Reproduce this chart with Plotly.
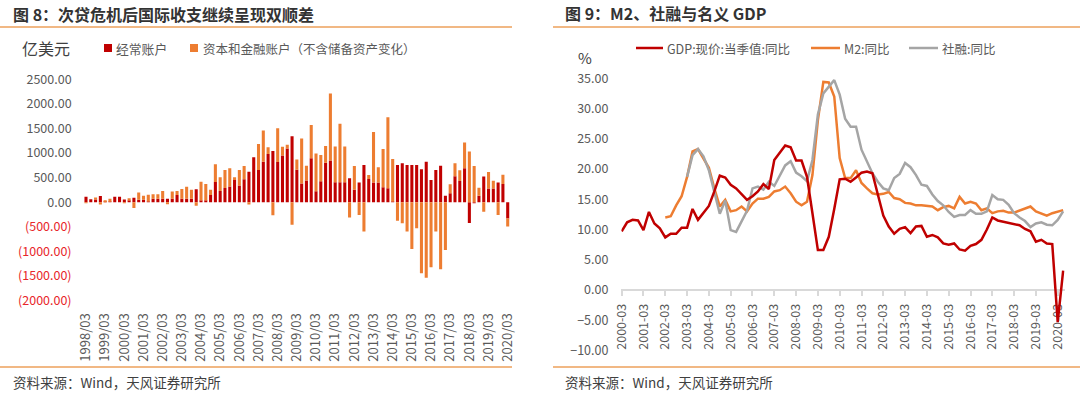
import plotly.graph_objects as go

# ---------------- data: left chart (balance of payments, 亿美元) ----------------
bop_quarters = [f"{y}/{m:02d}" for y in range(1998, 2021) for m in (3, 6, 9, 12)][:89]
current_account = [
    115, 60, 55, 130, 5, 10, 115, 115, 55, 35,
    90, 50, 50, 15, 70, 70, 70, 70, 70, 150,
    70, 70, 70, 265, 35, 35, 150, 415, 230, 290,
    320, 455, 340, 470, 620, 915, 655, 825, 980, 1045,
    820, 950, 1095, 1340, 660, 380, 445, 895, 225, 430,
    805, 850, 410, 410, 410, 490, 257, 400, 760, 474,
    400, 400, 305, 285, 15, 760, 795, 760, 760, 760,
    670, 826, 454, 657, 745, 135, 183, 528, 434, 691,
    -420, -10, 135, 522, 278, 278, 400, 373, -330,
]
capital_financial = [
    -10, 0, 45, -45, 30, 60, 0, 0, -10, 45,
    -115, 150, 85, 140, 93, 93, 160, -25, 147, 80,
    200, 248, 187, -70, 385, 338, 107, 360, 278, 367,
    371, 53, 317, 266, -45, 0, 531, 635, 138, -265,
    685, 180, 76, -455, 210, 915, 300, 675, 765, 530,
    340, 1360, 725, 1185, 725, -310, 480, -257, -596, 82,
    1030, 310, 780, 1445, 865, -373, -427, -596, -948, -528,
    -1443, -1531, -1321, -596, -1362, -969, 183, 265, 216, 522,
    1030, 740, 163, -190, 339, 162, -257, 189, -160,
]
bop_ytick_vals = [2500, 2000, 1500, 1000, 500, 0, -500, -1000, -1500, -2000]

# ---------------- data: right chart (M2, TSF, nominal GDP, %) ----------------
macro_quarters = [f"{y}-{m:02d}" for y in range(2000, 2021) for m in (3, 6, 9, 12)][:82]
gdp_yoy = [
    9.7, 11.2, 11.6, 11.5, 9.9, 12.9, 11.0, 10.2, 8.7, 9.3,
    9.3, 10.3, 10.3, 13.4, 11.6, 12.8, 13.9, 16.3, 18.9, 18.6,
    17.4, 16.8, 15.8, 14.9, 15.5, 16.3, 17.5, 16.7, 21.5, 22.7,
    23.9, 23.6, 21.4, 21.4, 18.7, 12.7, 6.6, 6.6, 8.8, 13.4,
    18.3, 18.4, 17.9, 18.6, 19.4, 19.6, 19.3, 15.8, 12.3, 10.5,
    9.3, 10.1, 10.4, 9.4, 10.5, 10.6, 8.8, 9.1, 8.7, 7.7,
    7.5, 7.7, 6.7, 6.5, 7.3, 7.6, 8.3, 10.0, 12.0, 11.5,
    11.3, 11.2, 11.0, 10.7, 10.1, 9.7, 8.0, 8.3, 7.7, 7.6,
    -5.3, 3.2,
]
m2_yoy = [None] * 8 + [
    12.0, 12.2, 14.0, 15.5, 18.7, 22.9, 23.3, 21.8, 20.2, 16.8,
    13.8, 14.9, 13.0, 13.2, 13.8, 13.0, 14.3, 15.1, 15.1, 15.4,
    16.3, 16.5, 17.1, 16.0, 14.6, 14.0, 14.6, 19.0, 28.1, 34.4,
    34.3, 32.0, 21.8, 18.5, 18.5, 19.8, 17.7, 16.8, 16.0, 15.8,
    15.9, 16.2, 15.2, 15.0, 14.4, 14.3, 14.0, 14.0, 13.9, 13.8,
    13.2, 13.7, 13.9, 13.5, 15.4, 14.3, 14.6, 14.3, 13.2, 13.5,
    12.7, 13.0, 13.1, 12.8, 12.8, 13.1, 13.5, 13.8, 13.0, 12.6,
    12.3, 12.7, 13.0, 13.2,
]
tsf_yoy = [None] * 12 + [
    18.7, 22.3, 23.3, 22.1, 19.8, 16.2, 12.6, 14.8, 9.9, 9.6,
    11.3, 13.1, 16.8, 17.1, 16.6, 17.9, 17.2, 18.8, 20.6, 21.3,
    19.4, 18.8, 18.0, 21.5, 29.0, 32.5, 33.6, 34.7, 32.3, 28.3,
    27.0, 27.0, 23.2, 21.3, 19.3, 17.9, 16.8, 16.5, 18.5, 19.2,
    21.0, 20.3, 19.0, 17.4, 17.2, 15.8, 14.7, 14.0, 12.9, 12.1,
    12.4, 12.4, 13.2, 12.6, 12.6, 13.0, 15.7, 15.0, 14.9, 14.1,
    12.7, 12.0, 11.4, 10.4, 11.0, 11.2, 10.8, 10.7, 11.6, 13.0,
]

# ---------------- styling ----------------
W, H = 1080, 394
FONT = "Noto Sans CJK SC"
RED = "#C00000"
ORANGE = "#ED7D31"
GRAY = "#A5A5A5"
TXT = "#595959"
AXIS = "#D9D9D9"
RULE = "#EDA15B"


def px(x):
    return x / W


def py(y):
    return 1 - y / H


fig = go.Figure()

# left bars
fig.add_trace(go.Bar(x=bop_quarters, y=current_account, name="经常账户",
                     marker=dict(color=RED, line=dict(width=0)), xaxis="x", yaxis="y"))
fig.add_trace(go.Bar(x=bop_quarters, y=capital_financial, name="资本和金融账户（不含储备资产变化）",
                     marker=dict(color=ORANGE, line=dict(width=0)), xaxis="x", yaxis="y"))

# right lines
fig.add_trace(go.Scatter(x=macro_quarters, y=m2_yoy, mode="lines", name="M2:同比",
                         line=dict(color=ORANGE, width=2.5), xaxis="x3", yaxis="y3"))
fig.add_trace(go.Scatter(x=macro_quarters, y=tsf_yoy, mode="lines", name="社融:同比",
                         line=dict(color=GRAY, width=2.5), xaxis="x3", yaxis="y3"))
fig.add_trace(go.Scatter(x=macro_quarters, y=gdp_yoy, mode="lines", name="GDP:现价:当季值:同比",
                         line=dict(color=RED, width=2.5), xaxis="x3", yaxis="y3"))

# geometry
L_dom_x = [px(83.6), px(510.1)]
L_dom_y = [py(300.7), py(79.3)]
L_range = [-2000, 2500]
L_zero = L_dom_y[0] + (0 - L_range[0]) / (L_range[1] - L_range[0]) * (L_dom_y[1] - L_dom_y[0])

R_dom_x = [px(621.4), px(1064.8)]
R_dom_y = [py(350.5), py(78.3)]
R_range = [-10, 35]
R_zero = R_dom_y[0] + (0 - R_range[0]) / (R_range[1] - R_range[0]) * (R_dom_y[1] - R_dom_y[0])


def ylab(v):
    if v < 0:
        return f'<span style="color:#E8262A">({abs(v):.2f})</span>'
    return f"{v:.2f}"


fig.update_layout(
    template="none",
    width=W, height=H,
    margin=dict(l=0, r=0, t=0, b=0, pad=0, autoexpand=False),
    paper_bgcolor="white", plot_bgcolor="rgba(0,0,0,0)",
    showlegend=False,
    barmode="relative", bargap=0.36,
    font=dict(family=FONT, color=TXT),
    xaxis=dict(domain=L_dom_x, anchor="y", type="category", categoryarray=bop_quarters,
               categoryorder="array", range=[-0.5, 88.5], automargin=False,
               tickmode="array", tickvals=bop_quarters[::4], ticktext=bop_quarters[::4],
               tickangle=-90, tickfont=dict(size=13, color=TXT, family=FONT),
               showline=False, showgrid=False, zeroline=False, ticks="",
               ticklabelstandoff=9),
    xaxis2=dict(domain=L_dom_x, overlaying="x", anchor="free", position=L_zero,
                type="linear", range=[-0.5, 88.5], automargin=False,
                tickmode="array", tickvals=list(range(0, len(bop_quarters), 4)),
                showticklabels=False, ticks="outside", ticklen=4, tickcolor=AXIS, tickwidth=1,
                showline=True, linecolor=AXIS, linewidth=1, showgrid=False, zeroline=False),
    yaxis=dict(domain=L_dom_y, anchor="x", range=L_range, automargin=False,
               tickmode="array", tickvals=bop_ytick_vals,
               ticktext=[ylab(v) for v in bop_ytick_vals],
               tickfont=dict(size=12.5, color=TXT, family=FONT),
               showgrid=False, zeroline=False, showline=False, ticks="",
               ticklabelstandoff=11),
    xaxis3=dict(domain=R_dom_x, anchor="free", position=R_zero, type="category",
                categoryarray=macro_quarters, categoryorder="array", range=[-0.05, 81.3],
                automargin=False,
                tickmode="array", tickvals=macro_quarters[::4], ticktext=macro_quarters[::4],
                tickangle=-90, tickfont=dict(size=12.5, color=TXT, family=FONT),
                ticks="outside", ticklen=5, tickcolor=AXIS, tickwidth=1.5,
                showline=True, linecolor=AXIS, linewidth=1.5, showgrid=False, zeroline=False,
                ticklabelstandoff=3, layer="below traces"),
    yaxis3=dict(domain=R_dom_y, anchor="x3", range=R_range, dtick=5, tick0=0,
                tickmode="linear", automargin=False,
                tickformat=".2f", tickfont=dict(size=12.5, color=TXT, family=FONT),
                showgrid=False, zeroline=False, showline=False, ticks="",
                ticklabelstandoff=12),
)

shapes = []
# rules
for x0, x1 in ((0, 512), (553, 1080)):
    for yy in (27, 367):
        shapes.append(dict(type="line", xref="paper", yref="paper", x0=px(x0), x1=px(x1),
                           y0=py(yy), y1=py(yy), line=dict(color=RULE, width=1.5)))
# left legend squares
shapes.append(dict(type="rect", xref="paper", yref="paper", x0=px(104), x1=px(112),
                   y0=py(52), y1=py(44), fillcolor=RED, line=dict(width=0)))
shapes.append(dict(type="rect", xref="paper", yref="paper", x0=px(190), x1=px(198),
                   y0=py(52), y1=py(44), fillcolor=ORANGE, line=dict(width=0)))
# right legend lines
for (x0, x1, c) in ((636, 663, RED), (811, 840, ORANGE), (909, 938, GRAY)):
    shapes.append(dict(type="line", xref="paper", yref="paper", x0=px(x0), x1=px(x1),
                       y0=py(48), y1=py(48), line=dict(color=c, width=2.5)))
fig.update_layout(shapes=shapes)

ann = []


def text(x, y, s, size, color=TXT, anchor="left", bold=False):
    ann.append(dict(x=px(x), y=py(y), xref="paper", yref="paper", text=s, showarrow=False,
                    xanchor=anchor, yanchor="middle",
                    font=dict(family=FONT, size=size, color=color,
                              weight="bold" if bold else "normal")))


text(11, 14, "图 8：次贷危机后国际收支继续呈现双顺差", 16, "#333333", bold=True)
text(563, 13, "图 9：M2、社融与名义 GDP", 16, "#333333", bold=True)
text(11, 382, "资料来源：Wind，天风证券研究所", 13.5, "#404040")
text(563, 382, "资料来源：Wind，天风证券研究所", 13.5, "#404040")
text(46, 48, "亿美元", 16, "#404040", anchor="center")
text(114, 48, "经常账户", 12.8)
text(201, 48, "资本和金融账户（不含储备资产变化）", 12.5)
text(585, 57, "%", 15, "#404040", anchor="center")
text(665, 48, "GDP:现价:当季值:同比", 12.5)
text(842, 48, "M2:同比", 12.5)
text(940, 48, "社融:同比", 12.5)
fig.update_layout(annotations=ann)

fig.write_html(
    "out.html",
    config={"displayModeBar": False},
    post_script="document.body.style.margin='0';document.body.style.overflow='hidden';",
)
